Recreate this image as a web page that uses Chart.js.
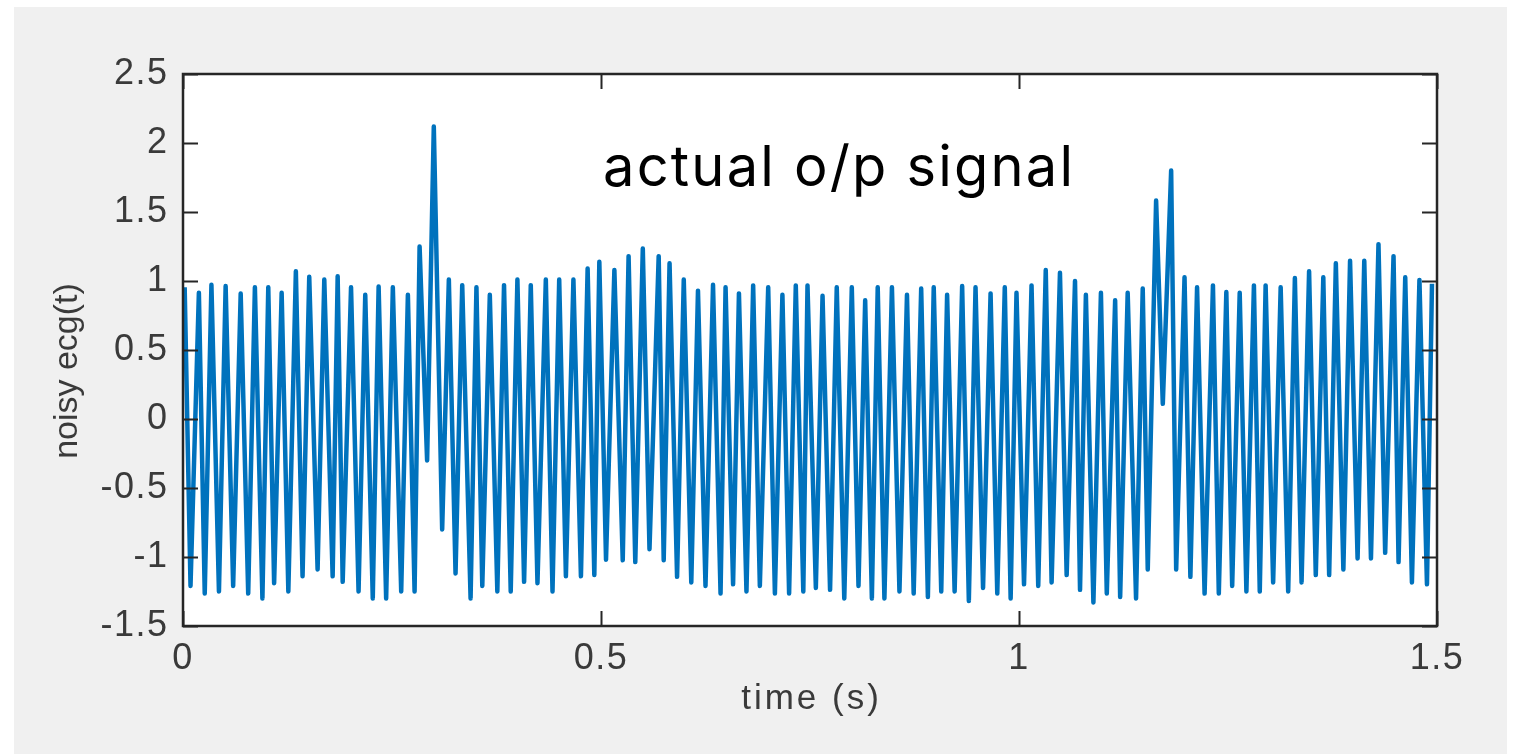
<!DOCTYPE html>
<html>
<head>
<meta charset="utf-8">
<script src="https://cdn.jsdelivr.net/npm/chart.js@4.4.1/dist/chart.umd.min.js"></script>
<style>
html,body{margin:0;padding:0;background:#fff;}
canvas{display:block;}
</style>
</head>
<body>
<canvas id="c" width="1517" height="754"></canvas>
<script>
// ---- data ----
const peakTimes = [0.002,0.019,0.034,0.051,0.069,0.086,0.102,0.118,0.135,0.151,0.169,0.185,0.201,0.218,0.234,0.251,0.269,0.283,0.300,0.318,0.334,0.351,0.367,0.384,0.400,0.416,0.434,0.450,0.467,0.484,0.498,
  0.516,0.533,0.550,0.569,0.582,0.599,0.616,0.634,0.649,0.665,0.682,0.700,0.717,0.733,0.747,0.765,0.782,0.800,0.816,0.831,0.848,0.866,0.883,0.898,0.914,0.932,0.948,0.966,0.983,0.997,
  1.015,1.032,1.049,1.067,1.080,1.098,1.115,1.130,1.148,1.164,1.182,1.198,1.213,1.232,1.248,1.264,1.281,1.295,1.313,1.330,1.347,1.364,1.379,1.396,1.413,1.430,1.448,1.462,1.479,1.494];
const peakValues = [0.955,0.914,0.973,0.963,0.909,0.955,0.955,0.914,1.07,1.03,1.01,1.035,0.955,0.90,0.96,0.955,0.90,1.25,2.12,1.01,0.97,0.955,0.90,0.97,1.01,0.97,1.01,1.01,1.01,1.09,1.14,
  1.08,1.18,1.235,1.18,1.128,1.01,0.93,0.973,0.955,0.91,0.968,0.955,0.90,0.968,0.968,0.893,0.955,0.955,0.86,0.955,0.955,0.90,0.946,0.955,0.90,0.963,0.955,0.91,0.955,0.914,
  0.968,1.08,1.06,1.0,0.90,0.914,0.86,0.914,0.946,1.583,1.80,1.027,0.955,0.968,0.92,0.914,0.968,0.968,0.955,1.021,1.07,1.027,1.128,1.147,1.147,1.267,1.18,1.027,1.008,0.98];
const troughTimes = [0.009,0.026,0.043,0.060,0.078,0.095,0.109,0.126,0.143,0.161,0.179,0.191,0.210,0.227,0.243,0.261,0.277,0.292,0.310,0.326,0.344,0.358,0.376,0.392,0.408,0.424,0.442,0.458,0.476,0.492,0.506,
  0.526,0.541,0.558,0.575,0.591,0.608,0.625,0.643,0.658,0.674,0.690,0.708,0.725,0.742,0.757,0.774,0.791,0.808,0.824,0.839,0.857,0.874,0.891,0.907,0.923,0.940,0.957,0.974,0.990,1.006,
  1.023,1.039,1.057,1.073,1.089,1.105,1.121,1.140,1.154,1.172,1.188,1.205,1.222,1.239,1.255,1.272,1.288,1.304,1.322,1.338,1.355,1.371,1.388,1.405,1.421,1.438,1.454,1.470,1.488];
const troughValues = [-1.21,-1.265,-1.25,-1.21,-1.265,-1.30,-1.19,-1.25,-1.14,-1.09,-1.14,-1.18,-1.25,-1.30,-1.30,-1.25,-1.25,-0.30,-0.80,-1.12,-1.30,-1.21,-1.25,-1.25,-1.18,-1.19,-1.25,-1.14,-1.14,-1.13,-1.02,
  -1.024,-1.037,-0.944,-1.024,-1.144,-1.184,-1.21,-1.265,-1.198,-1.25,-1.21,-1.265,-1.265,-1.25,-1.225,-1.238,-1.30,-1.21,-1.30,-1.30,-1.25,-1.265,-1.29,-1.25,-1.25,-1.318,-1.225,-1.265,-1.30,-1.198,
  -1.21,-1.184,-1.131,-1.238,-1.33,-1.265,-1.29,-1.30,-1.09,0.11,-1.09,-1.144,-1.265,-1.265,-1.21,-1.25,-1.25,-1.184,-1.25,-1.184,-1.131,-1.131,-1.09,-1.01,-1.01,-0.97,-1.037,-1.184,-1.198];
const xTicks = [0, 0.5, 1, 1.5];
const xTickLabels = ['0', '0.5', '1', '1.5'];
const yTicks = [-1.5, -1, -0.5, 0, 0.5, 1, 1.5, 2, 2.5];
const yTickLabels = ['-1.5', '-1', '-0.5', '0', '0.5', '1', '1.5', '2', '2.5'];
const xTitle = 'time (s)';
const yTitle = 'noisy ecg(t)';
const annotationText = 'actual o/p signal';

// ---- build series ----
const points = [];
peakTimes.forEach((t, i) => points.push({x: t, y: peakValues[i]}));
troughTimes.forEach((t, i) => points.push({x: t, y: troughValues[i]}));
points.sort((a, b) => a.x - b.x);

const AXIS_FONT = '"Liberation Sans", Arial, sans-serif';
const TITLE_FONT = 'Inter, "Liberation Sans", sans-serif';
const AXIS_COLOR = '#3a3a3a';

const framePlugin = {
  id: 'frame',
  beforeDraw(chart) {
    const ctx = chart.ctx, a = chart.chartArea;
    ctx.save();
    ctx.fillStyle = '#ffffff';
    ctx.fillRect(0, 0, chart.width, chart.height);
    ctx.fillStyle = '#f0f0f0';
    ctx.fillRect(14, 7, 1493, 747);
    ctx.fillStyle = '#ffffff';
    ctx.fillRect(a.left, a.top, a.right - a.left, a.bottom - a.top);
    ctx.restore();
    if ('letterSpacing' in ctx) ctx.letterSpacing = '1.5px';
  },
  afterDatasetsDraw(chart) {
    const ctx = chart.ctx, a = chart.chartArea;
    const xs = chart.scales.x, ys = chart.scales.y;
    ctx.save();
    ctx.strokeStyle = '#262626';
    ctx.lineWidth = 2;
    const tl = 15;
    ctx.beginPath();
    xTicks.forEach(v => {
      const px = Math.round(xs.getPixelForValue(v)) + 0.5;
      ctx.moveTo(px, a.bottom); ctx.lineTo(px, a.bottom - tl);
      ctx.moveTo(px, a.top); ctx.lineTo(px, a.top + tl);
    });
    yTicks.forEach(v => {
      const py = Math.round(ys.getPixelForValue(v)) + 0.5;
      ctx.moveTo(a.left, py); ctx.lineTo(a.left + tl, py);
      ctx.moveTo(a.right, py); ctx.lineTo(a.right - tl, py);
    });
    ctx.stroke();
    ctx.lineWidth = 2.5;
    ctx.strokeRect(a.left, a.top, a.right - a.left, a.bottom - a.top);

    // axis titles
    ctx.fillStyle = AXIS_COLOR;
    ctx.font = '35px ' + AXIS_FONT;
    ctx.textAlign = 'center';
    ctx.textBaseline = 'middle';
    if ('letterSpacing' in ctx) ctx.letterSpacing = '3px';
    ctx.fillText(xTitle, (a.left + a.right) / 2 + 1.5, 699);
    ctx.font = '34px ' + AXIS_FONT;
    if ('letterSpacing' in ctx) ctx.letterSpacing = '0px';
    ctx.save();
    ctx.translate(68, 371);
    ctx.rotate(-Math.PI / 2);
    ctx.fillText(yTitle, 0, 0);
    ctx.restore();

    // annotation text
    ctx.fillStyle = '#000000';
    ctx.font = '400 56px ' + TITLE_FONT;
    ctx.textAlign = 'left';
    ctx.textBaseline = 'alphabetic';
    const targetW = 470;
    if ('letterSpacing' in ctx) ctx.letterSpacing = '0px';
    const w = ctx.measureText(annotationText).width;
    if ('letterSpacing' in ctx) {
      ctx.letterSpacing = ((targetW - w) / (annotationText.length - 1)).toFixed(2) + 'px';
    }
    ctx.fillText(annotationText, 603, 186);
    ctx.restore();
  },
  afterDraw(chart) {
    if ('letterSpacing' in chart.ctx) chart.ctx.letterSpacing = '0px';
  }
};

new Chart(document.getElementById('c'), {
  type: 'line',
  data: {
    datasets: [{
      data: points,
      borderColor: 'rgb(0,114,189)',
      borderWidth: 4.5,
      borderJoinStyle: 'round',
      pointRadius: 0,
      tension: 0,
      fill: false
    }]
  },
  options: {
    responsive: false,
    animation: false,
    devicePixelRatio: 1,
    layout: { padding: { left: 0, top: 74, right: 80, bottom: 0 } },
    plugins: { legend: { display: false }, tooltip: { enabled: false }, title: { display: false } },
    scales: {
      x: {
        type: 'linear', min: 0, max: 1.5,
        afterBuildTicks: s => { s.ticks = xTicks.map(v => ({ value: v })); },
        afterFit: s => { s.height = 128; },
        grid: { display: false, drawTicks: false },
        border: { display: false },
        ticks: {
          padding: 11,
          maxRotation: 0,
          autoSkip: false,
          color: AXIS_COLOR,
          font: { family: AXIS_FONT, size: 36 },
          callback: (v) => { const i = xTicks.indexOf(v); return i >= 0 ? xTickLabels[i] : ''; }
        }
      },
      y: {
        type: 'linear', min: -1.5, max: 2.5,
        afterBuildTicks: s => { s.ticks = yTicks.map(v => ({ value: v })); },
        afterFit: s => { s.width = 183; },
        grid: { display: false, drawTicks: false },
        border: { display: false },
        ticks: {
          padding: 14.5,
          autoSkip: false,
          color: AXIS_COLOR,
          font: { family: AXIS_FONT, size: 36 },
          callback: (v) => { const i = yTicks.indexOf(v); return i >= 0 ? yTickLabels[i] : ''; }
        }
      }
    }
  },
  plugins: [framePlugin]
});
</script>
</body>
</html>
